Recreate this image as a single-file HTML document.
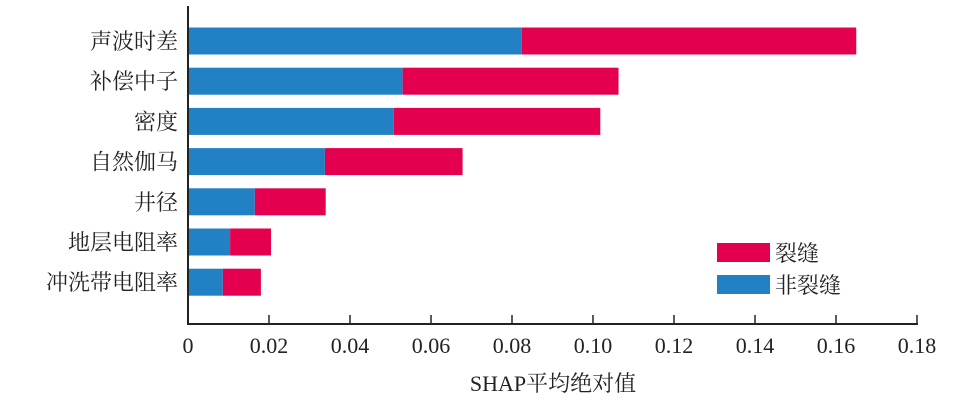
<!DOCTYPE html>
<html><head><meta charset="utf-8"><style>
body{margin:0;background:#fff;}
text{font-family:"Liberation Serif","Noto Serif CJK SC",serif;fill:#222;}
</style></head><body>
<svg width="953" height="401" viewBox="0 0 953 401">
<g id="bars"></g>
<g id="axes"></g>
<g>
<rect x="717" y="243" width="53" height="19" fill="#e4004f"/>
<text x="775" y="261" font-size="22">裂缝</text>
<rect x="717" y="275" width="53" height="19" fill="#2281c4"/>
<text x="775" y="293" font-size="22">非裂缝</text>
</g>
<text x="553" y="391" font-size="22" text-anchor="middle">SHAP平均绝对值</text>
</svg>
<script>
const categories=["声波时差","补偿中子","密度","自然伽马","井径","地层电阻率","冲洗带电阻率"];
const nonCrack=[0.0824,0.053,0.0508,0.0338,0.0165,0.0104,0.0086];
const crack=[0.0826,0.0533,0.051,0.034,0.0175,0.0101,0.0094];
const ticks=[0,0.02,0.04,0.06,0.08,0.10,0.12,0.14,0.16,0.18];
const tickLabels=["0","0.02","0.04","0.06","0.08","0.10","0.12","0.14","0.16","0.18"];
const NS="http://www.w3.org/2000/svg";
const x0=188,x1=917,axisY=324;
const xs=v=>x0+v/0.18*(x1-x0);
const yc=i=>41+i*40.2;
const bars=document.getElementById('bars'),axes=document.getElementById('axes');
function mk(t,a,p){const e=document.createElementNS(NS,t);for(const k in a)e.setAttribute(k,a[k]);p.appendChild(e);return e;}
categories.forEach((c,i)=>{
 const b=mk('rect',{x:xs(0),y:yc(i)-13.5,width:xs(nonCrack[i])-xs(0),height:27,fill:'#2281c4'},bars);
 
 
 const r=mk('rect',{x:xs(nonCrack[i]),y:yc(i)-13.5,width:xs(nonCrack[i]+crack[i])-xs(nonCrack[i]),height:27,fill:'#e4004f'},bars);
 
 
 const t=mk('text',{x:178,y:yc(i)+8,'font-size':22,'text-anchor':'end'},axes);
 t.textContent=c;
 
 
});
const ax=mk('path',{d:`M${x0} 6V${axisY}H${x1+1}`,stroke:'#222','stroke-width':2,fill:'none'},axes);


ticks.forEach((v,i)=>{
 if(i>0){const l=mk('line',{x1:xs(v),x2:xs(v),y1:axisY,y2:axisY-9,stroke:'#222','stroke-width':1.5},axes);
 
 }
 const t=mk('text',{x:xs(v),y:353,'font-size':22,'text-anchor':'middle'},axes);
 t.textContent=tickLabels[i];
 
 
});
</script>
</body></html>
